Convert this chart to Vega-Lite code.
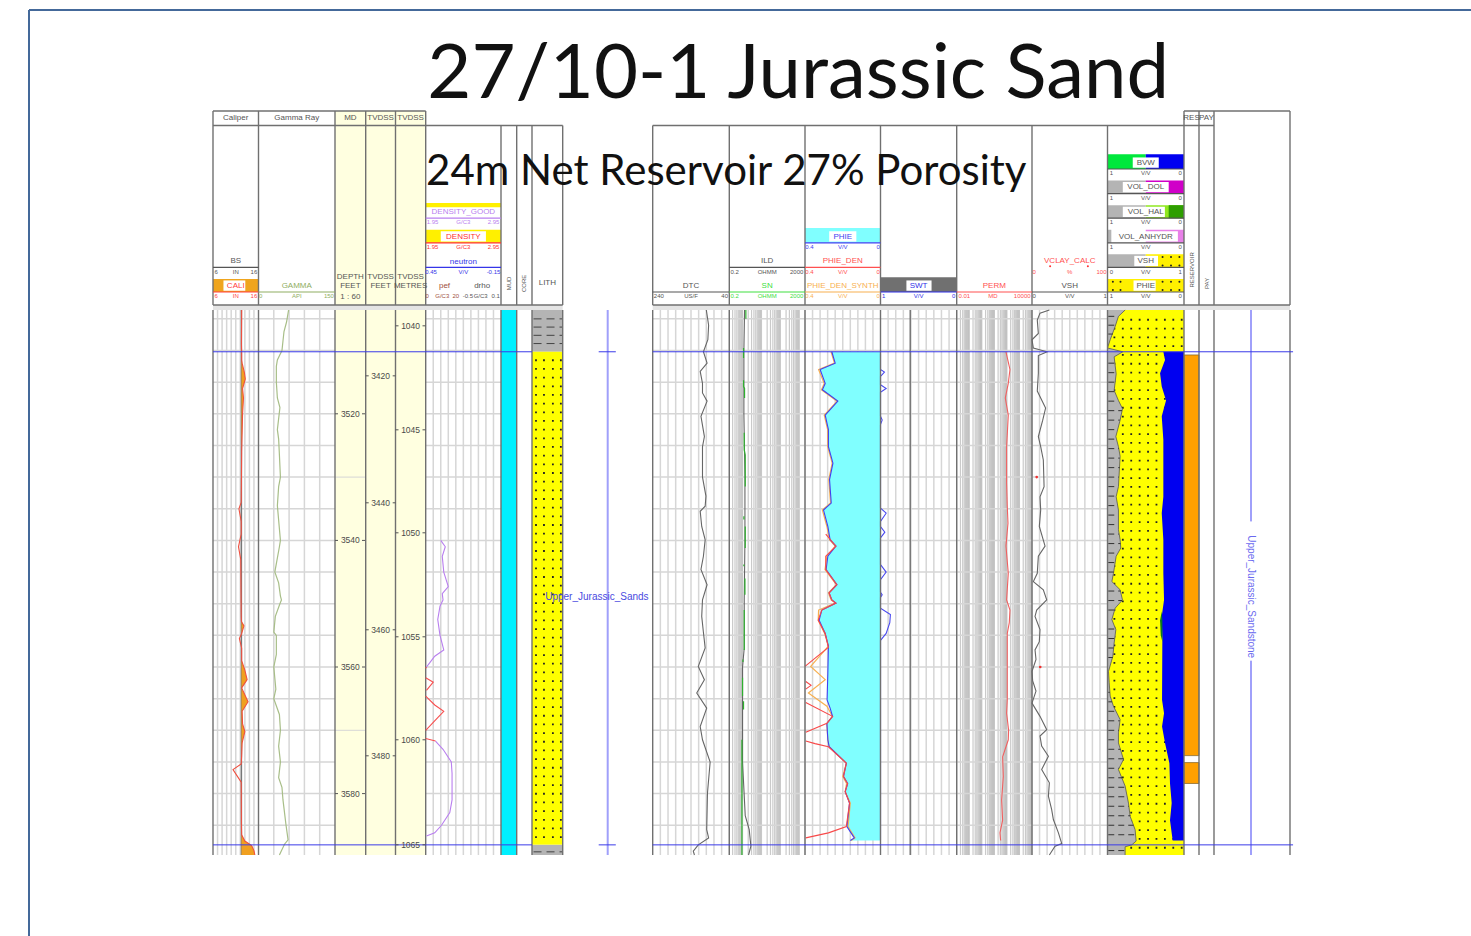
{"$schema":"https://vega.github.io/schema/vega-lite/v6.json","width":1471,"height":936,"padding":0,"autosize":{"type":"fit","contains":"padding"},"background":"white","config":{"view":{"stroke":null}},
"resolve":{"scale":{"x":"independent","y":"independent","color":"independent"}},
"datasets":{
"bands":[{"a":6,"b":7,"d1":3503.6,"d2":3589.7,"band":"MUD"},{"a":8,"b":9,"d1":3503.6,"d2":3510.2,"band":"SHALE"},{"a":8,"b":9,"d1":3510.2,"d2":3588.1,"band":"SAND"},{"a":8,"b":9,"d1":3588.1,"d2":3589.7,"band":"SHALE"},{"a":2,"b":5,"d1":3503.6,"d2":3589.7,"band":"DEPTH"},{"a":16,"b":17,"d1":3503.6,"d2":3589.7,"band":"SAND"}],
"reservoir":[{"d1":3510.7,"d2":3574},{"d1":3575.1,"d2":3578.4}],
"grid_v":[{"t":0.1},{"t":0.2},{"t":0.3},{"t":0.4},{"t":0.5},{"t":0.6},{"t":0.7},{"t":0.8},{"t":0.9},{"t":1.2},{"t":1.4},{"t":1.6},{"t":1.8},{"t":5.1},{"t":5.2},{"t":5.3},{"t":5.4},{"t":5.5},{"t":5.6},{"t":5.7},{"t":5.8},{"t":5.9},{"t":10.1},{"t":10.2},{"t":10.3},{"t":10.4},{"t":10.5},{"t":10.6},{"t":10.7},{"t":10.8},{"t":10.9},{"t":12.1},{"t":12.2},{"t":12.3},{"t":12.4},{"t":12.5},{"t":12.6},{"t":12.7},{"t":12.8},{"t":12.9},{"t":13.1},{"t":13.2},{"t":13.3},{"t":13.4},{"t":13.5},{"t":13.6},{"t":13.7},{"t":13.8},{"t":13.9},{"t":15.1},{"t":15.2},{"t":15.3},{"t":15.4},{"t":15.5},{"t":15.6},{"t":15.7},{"t":15.8},{"t":15.9}],
"decades":[{"v":0.01},{"v":0.02},{"v":0.03},{"v":0.04},{"v":0.05},{"v":0.06},{"v":0.07},{"v":0.08},{"v":0.09},{"v":0.1},{"v":0.2},{"v":0.3},{"v":0.4},{"v":0.5},{"v":0.6},{"v":0.7},{"v":0.8},{"v":0.9},{"v":1},{"v":2},{"v":3},{"v":4},{"v":5},{"v":6},{"v":7},{"v":8},{"v":9},{"v":10},{"v":20},{"v":30},{"v":40},{"v":50},{"v":60},{"v":70},{"v":80},{"v":90},{"v":100},{"v":200},{"v":300},{"v":400},{"v":500},{"v":600},{"v":700},{"v":800},{"v":900},{"v":1000},{"v":2000},{"v":3000},{"v":4000},{"v":5000},{"v":6000},{"v":7000},{"v":8000},{"v":9000},{"v":10000}],
"grid_h":[{"d":3505},{"d":3510},{"d":3515},{"d":3520},{"d":3525},{"d":3530},{"d":3535},{"d":3540},{"d":3545},{"d":3550},{"d":3555},{"d":3560},{"d":3565},{"d":3570},{"d":3575},{"d":3580},{"d":3585}],
"grid_md":[{"d":3530},{"d":3570}],
"tracks":[{"t":0},{"t":1},{"t":2},{"t":3},{"t":4},{"t":5},{"t":6},{"t":7},{"t":8},{"t":9},{"t":10},{"t":11},{"t":12},{"t":13},{"t":13.39},{"t":14},{"t":15},{"t":16},{"t":17},{"t":18},{"t":19},{"t":20}],
"gamma":[{"d":3503.6,"v":59},{"d":3505.5,"v":55},{"d":3507,"v":50},{"d":3508.5,"v":48},{"d":3510,"v":46},{"d":3511.5,"v":37},{"d":3512.5,"v":35},{"d":3515,"v":35},{"d":3517.5,"v":37},{"d":3519,"v":42},{"d":3522.5,"v":37},{"d":3524,"v":39.5},{"d":3526.5,"v":41},{"d":3530,"v":43},{"d":3531.5,"v":39.5},{"d":3534.5,"v":37},{"d":3540,"v":43},{"d":3541,"v":41},{"d":3545,"v":32},{"d":3546.7,"v":39.5},{"d":3548.8,"v":43},{"d":3549.4,"v":45},{"d":3550,"v":42},{"d":3552,"v":33},{"d":3554.5,"v":30},{"d":3555,"v":35},{"d":3558,"v":35},{"d":3560,"v":30},{"d":3563.5,"v":34},{"d":3565,"v":30},{"d":3567.5,"v":41},{"d":3570,"v":43},{"d":3572.5,"v":39.5},{"d":3575,"v":43},{"d":3577.5,"v":39.5},{"d":3579,"v":46},{"d":3581,"v":48},{"d":3583,"v":51},{"d":3585,"v":54},{"d":3587.3,"v":58},{"d":3588,"v":51},{"d":3589.7,"v":41}],
"cali":[{"d":3503.6,"v":12.3},{"d":3509,"v":12.25},{"d":3510.5,"v":12.3},{"d":3511.5,"v":12.3,"f":12.25,"e":12.25},{"d":3512,"v":12.4,"f":12.4,"e":12.25},{"d":3513.5,"v":12.9,"f":12.9,"e":12.25},{"d":3514.5,"v":13.1,"f":13.1,"e":12.25},{"d":3516,"v":12.5,"f":12.5,"e":12.25},{"d":3517.5,"v":12.7,"f":12.7,"e":12.25},{"d":3520,"v":12.5,"f":12.5,"e":12.25},{"d":3523,"v":12.4,"f":12.4,"e":12.25},{"d":3526,"v":12.3,"f":12.25,"e":12.25},{"d":3534,"v":12.2},{"d":3535,"v":11.7},{"d":3537,"v":12.2},{"d":3539,"v":12.2},{"d":3541,"v":11.6},{"d":3543,"v":12.1},{"d":3552,"v":12.2},{"d":3552.8,"v":12.25,"f":12.25,"e":12.25},{"d":3553.5,"v":12.8,"f":12.8,"e":12.25},{"d":3554.7,"v":12.3,"f":12.25,"e":12.25},{"d":3555.5,"v":11.8},{"d":3557,"v":12.3},{"d":3559,"v":12.3,"f":12.3,"e":12.25},{"d":3560.5,"v":13,"f":13,"e":12.25},{"d":3562,"v":13.5,"f":13.5,"e":12.25},{"d":3563.3,"v":12.3,"f":12.3,"e":12.25},{"d":3565.5,"v":13.7,"f":13.7,"e":12.25},{"d":3567,"v":12.4,"f":12.4,"e":12.25},{"d":3569,"v":12.5,"f":12.5,"e":12.25},{"d":3570.2,"v":13,"f":13,"e":12.25},{"d":3572,"v":12.4,"f":12.4,"e":12.25},{"d":3574,"v":12.3,"f":12.25,"e":12.25},{"d":3575.3,"v":12.2},{"d":3576.2,"v":10.4},{"d":3578.2,"v":12.2},{"d":3585,"v":12.25},{"d":3586.5,"v":12.3,"f":12.25,"e":12.25},{"d":3587.5,"v":13,"f":13,"e":12.25},{"d":3588.2,"v":14.5,"f":14.5,"e":12.25},{"d":3589,"v":15,"f":15,"e":12.25},{"d":3589.7,"v":15.2,"f":15.2,"e":12.25}],
"bs":[{"v":12.25}],
"density_good":[{"d":3540,"v":2.15},{"d":3541,"v":2.21},{"d":3542.5,"v":2.17},{"d":3545,"v":2.19},{"d":3547.3,"v":2.25},{"d":3548.4,"v":2.17},{"d":3549.4,"v":2.18},{"d":3550.4,"v":2.14},{"d":3552.5,"v":2.11},{"d":3555,"v":2.14},{"d":3557.3,"v":2.19},{"d":3558.3,"v":2.07},{"d":3559.4,"v":2.0},{"d":3560,"v":1.96},{"d":3571.5,"v":null},{"d":3571.7,"v":2.08},{"d":3573,"v":2.18},{"d":3575,"v":2.29},{"d":3576.8,"v":2.3},{"d":3581,"v":2.3},{"d":3583,"v":2.27},{"d":3585,"v":2.16},{"d":3586.2,"v":2.07},{"d":3586.7,"v":1.96}],
"density":[{"d":3560,"v":1.96},{"d":3560.2,"v":1.95},{"d":3561,"v":null},{"d":3561.7,"v":1.95},{"d":3562.4,"v":2.05},{"d":3563.7,"v":1.96},{"d":3564.2,"v":null},{"d":3564.6,"v":1.95},{"d":3566,"v":2.07},{"d":3567,"v":2.19},{"d":3568,"v":2.11},{"d":3570,"v":1.95},{"d":3570.6,"v":null},{"d":3571.3,"v":1.95},{"d":3571.7,"v":2.08}],
"dtc":[{"d":3503.6,"v":100},{"d":3506,"v":94},{"d":3508.3,"v":96},{"d":3510.2,"v":107.6},{"d":3512,"v":98},{"d":3513.3,"v":116},{"d":3515.2,"v":110},{"d":3516.7,"v":110},{"d":3518,"v":98},{"d":3520.4,"v":114},{"d":3523.6,"v":105},{"d":3525.2,"v":110},{"d":3530,"v":110},{"d":3533,"v":101},{"d":3534.6,"v":103},{"d":3535.4,"v":116},{"d":3537.8,"v":112},{"d":3539.9,"v":103},{"d":3542.5,"v":107.6},{"d":3544.6,"v":114},{"d":3547,"v":98},{"d":3549.4,"v":110},{"d":3552,"v":112},{"d":3554.5,"v":107.6},{"d":3557,"v":103},{"d":3559.9,"v":121},{"d":3562,"v":105},{"d":3564.1,"v":125},{"d":3566.5,"v":99},{"d":3569.4,"v":116},{"d":3571.5,"v":110},{"d":3575,"v":90},{"d":3579.9,"v":97},{"d":3585.7,"v":99},{"d":3587,"v":94},{"d":3588.1,"v":121},{"d":3589.1,"v":134},{"d":3589.7,"v":131}],
"ild":[{"d":3503.6,"v":1.28},{"d":3510,"v":1.18},{"d":3520,"v":1.18},{"d":3530,"v":1.34},{"d":3540,"v":1.34},{"d":3549.4,"v":1.23},{"d":3557,"v":1.23},{"d":3560,"v":1.0},{"d":3575,"v":1.0},{"d":3583.5,"v":1.39},{"d":3585.7,"v":2.26},{"d":3588.3,"v":2.76},{"d":3589.7,"v":2.08}],
"sn":[{"d":3503.6,"v":1.5},{"d":3505,"v":1.5},{"d":3506,"v":null},{"d":3509.6,"v":1.13},{"d":3511.2,"v":1.13},{"d":3512,"v":null},{"d":3514.7,"v":1.13},{"d":3515.7,"v":1.13},{"d":3516,"v":1.28},{"d":3517.5,"v":1.28},{"d":3518,"v":null},{"d":3523,"v":1.23},{"d":3525.7,"v":1.23},{"d":3526.5,"v":1.39},{"d":3531.5,"v":1.39},{"d":3532,"v":null},{"d":3536.2,"v":1.18},{"d":3536.7,"v":1.18},{"d":3537,"v":null},{"d":3537.8,"v":1.39},{"d":3541.2,"v":1.39},{"d":3542,"v":null},{"d":3543.8,"v":1.18},{"d":3544.1,"v":1.18},{"d":3544.5,"v":null},{"d":3546,"v":1.34},{"d":3548.6,"v":1.34},{"d":3549,"v":null},{"d":3551,"v":1.23},{"d":3557.3,"v":1.23},{"d":3558,"v":null},{"d":3558.8,"v":1.05},{"d":3559.2,"v":1.05},{"d":3560,"v":null},{"d":3561.7,"v":1.0},{"d":3564.6,"v":1.0},{"d":3565,"v":null},{"d":3565.4,"v":1.13},{"d":3566.7,"v":1.13},{"d":3567,"v":null},{"d":3571.5,"v":0.93},{"d":3589.7,"v":0.93}],
"phie":[{"d":3510.2,"v":0.258,"e":0},{"d":3512,"v":0.24,"e":0},{"d":3513,"v":0.32,"e":0},{"d":3515.2,"v":0.293,"e":0},{"d":3516.2,"v":0.308,"e":0},{"d":3518,"v":0.226,"e":0},{"d":3520.2,"v":0.293,"e":0},{"d":3522.5,"v":0.276,"e":0},{"d":3525.2,"v":0.276,"e":0},{"d":3527.8,"v":0.252,"e":0},{"d":3530.4,"v":0.27,"e":0},{"d":3534.1,"v":0.261,"e":0},{"d":3535.2,"v":0.302,"e":0},{"d":3537.8,"v":0.279,"e":0},{"d":3539.9,"v":0.267,"e":0},{"d":3540.9,"v":0.236,"e":0},{"d":3542.5,"v":0.279,"e":0},{"d":3544.6,"v":0.288,"e":0},{"d":3547,"v":0.231,"e":0},{"d":3548.3,"v":0.272,"e":0},{"d":3549.4,"v":0.258,"e":0},{"d":3549.9,"v":0.236,"e":0},{"d":3551,"v":0.311,"e":0},{"d":3552.6,"v":0.325,"e":0},{"d":3554.7,"v":0.293,"e":0},{"d":3556.7,"v":0.276,"e":0},{"d":3561,"v":0.279,"e":0},{"d":3565.2,"v":0.283,"e":0},{"d":3566.5,"v":0.267,"e":0},{"d":3567.8,"v":0.254,"e":0},{"d":3568.9,"v":0.284,"e":0},{"d":3571.5,"v":0.279,"e":0},{"d":3572.6,"v":0.272,"e":0},{"d":3575.2,"v":0.181,"e":0},{"d":3577.3,"v":0.196,"e":0},{"d":3578.4,"v":0.174,"e":0},{"d":3579.7,"v":0.187,"e":0},{"d":3581.5,"v":0.164,"e":0},{"d":3585.2,"v":0.178,"e":0},{"d":3587,"v":0.139,"e":0},{"d":3587.4,"v":0.16,"e":0}],
"phie_den":[{"d":3539,"v":0.29},{"d":3540.9,"v":0.236},{"d":3542.5,"v":0.29},{"d":3544.6,"v":0.29},{"d":3547,"v":0.231},{"d":3548.3,"v":0.272},{"d":3549.4,"v":0.258},{"d":3549.9,"v":0.236},{"d":3551,"v":0.311},{"d":3552.6,"v":0.33},{"d":3554.7,"v":0.293},{"d":3556.9,"v":0.276},{"d":3559.9,"v":0.4},{"d":3560.5,"v":null},{"d":3562.3,"v":0.396},{"d":3562.9,"v":0.368},{"d":3563.5,"v":0.396},{"d":3564.5,"v":null},{"d":3565.6,"v":0.396},{"d":3567.8,"v":0.254},{"d":3568.9,"v":0.284},{"d":3570.3,"v":0.396},{"d":3571,"v":null},{"d":3571.7,"v":0.396},{"d":3572.1,"v":0.347},{"d":3572.6,"v":0.276},{"d":3575.2,"v":0.181},{"d":3577.3,"v":0.196},{"d":3578.4,"v":0.174},{"d":3579.7,"v":0.187},{"d":3581.5,"v":0.164},{"d":3585.2,"v":0.181},{"d":3586.2,"v":0.276},{"d":3587,"v":0.396}],
"synth":[{"d":3510.2,"v":0.262},{"d":3512,"v":0.244},{"d":3513,"v":0.328},{"d":3515.2,"v":0.298},{"d":3516.2,"v":0.313},{"d":3518,"v":0.23},{"d":3520.2,"v":0.298},{"d":3522.5,"v":0.28},{"d":3525.2,"v":0.28},{"d":3527.8,"v":0.256},{"d":3530.4,"v":0.274},{"d":3534.1,"v":0.265},{"d":3535.2,"v":0.308},{"d":3537.8,"v":0.284},{"d":3539.9,"v":0.27},{"d":3540.9,"v":0.24},{"d":3542.5,"v":0.284},{"d":3544.6,"v":0.294},{"d":3547,"v":0.234},{"d":3548.3,"v":0.276},{"d":3549.4,"v":0.262},{"d":3549.9,"v":0.24},{"d":3551,"v":0.328},{"d":3552.6,"v":0.33},{"d":3554.7,"v":0.296},{"d":3556.7,"v":0.276},{"d":3559.9,"v":0.37},{"d":3562,"v":0.293},{"d":3564.1,"v":0.382},{"d":3566.2,"v":0.284},{"d":3567.8,"v":0.254},{"d":3568.9,"v":0.284},{"d":3571.5,"v":0.279},{"d":3572.6,"v":0.272},{"d":3575.2,"v":0.181},{"d":3577.3,"v":0.2},{"d":3578.4,"v":0.18},{"d":3579.7,"v":0.187},{"d":3581.5,"v":0.16},{"d":3585.2,"v":0.172},{"d":3587,"v":0.135},{"d":3587.4,"v":0.155}],
"swt":[{"d":3510.5,"v":1},{"d":3513,"v":1},{"d":3513.4,"v":0.948},{"d":3514.1,"v":1},{"d":3515.4,"v":1},{"d":3516,"v":0.926},{"d":3516.6,"v":1},{"d":3520.4,"v":1},{"d":3521,"v":0.978},{"d":3521.7,"v":1},{"d":3534.9,"v":1},{"d":3535.7,"v":0.926},{"d":3537,"v":1},{"d":3537.8,"v":1},{"d":3538.7,"v":0.943},{"d":3539.6,"v":1},{"d":3543.8,"v":1},{"d":3545,"v":0.926},{"d":3546.2,"v":1},{"d":3548.2,"v":1},{"d":3548.6,"v":0.978},{"d":3549,"v":1},{"d":3550.7,"v":1},{"d":3551.7,"v":0.87},{"d":3553,"v":0.878},{"d":3554.7,"v":0.926},{"d":3555.8,"v":1},{"d":3587.4,"v":1}],
"perm":[{"d":3510.2,"v":84.3},{"d":3513,"v":175},{"d":3515.2,"v":129},{"d":3517.5,"v":74.6},{"d":3520.2,"v":129},{"d":3525.2,"v":95},{"d":3530.9,"v":95},{"d":3534.6,"v":107},{"d":3537.3,"v":122},{"d":3540.9,"v":84.3},{"d":3545.2,"v":129},{"d":3549.4,"v":95},{"d":3551,"v":175},{"d":3553,"v":155},{"d":3554.7,"v":107},{"d":3565.2,"v":107},{"d":3567.3,"v":95},{"d":3570,"v":137},{"d":3571.5,"v":129},{"d":3574.2,"v":45.7},{"d":3577.3,"v":51.7},{"d":3581,"v":38.1},{"d":3584.2,"v":45.7},{"d":3586.2,"v":28.1},{"d":3587.4,"v":31.7}],
"vsh":[{"d":3503.6,"v":0.23},{"d":3504.1,"v":0.106},{"d":3505.2,"v":0.07},{"d":3507.3,"v":0.084},{"d":3508.3,"v":0},{"d":3509.6,"v":0.018},{"d":3510.2,"v":0.2},{"d":3510.8,"v":0.084},{"d":3513.6,"v":0.084},{"d":3516.4,"v":0.07},{"d":3519.1,"v":0.18},{"d":3521,"v":0.142},{"d":3523.6,"v":0.084},{"d":3525.2,"v":0.115},{"d":3527.3,"v":0.15},{"d":3531.5,"v":0.16},{"d":3533.1,"v":0.106},{"d":3535.2,"v":0.115},{"d":3537.8,"v":0.097},{"d":3540.9,"v":0.173},{"d":3542.5,"v":0.084},{"d":3545.2,"v":0.07},{"d":3546.5,"v":0.018},{"d":3547.8,"v":0.15},{"d":3549.4,"v":0.195},{"d":3551,"v":0.062},{"d":3552,"v":0.04},{"d":3554.1,"v":0.106},{"d":3556,"v":0.097},{"d":3557.3,"v":0.04},{"d":3558.8,"v":0.053},{"d":3560.7,"v":0},{"d":3562.2,"v":0.009},{"d":3563.8,"v":0.053},{"d":3565.7,"v":0},{"d":3567.8,"v":0.106},{"d":3569.9,"v":0.195},{"d":3570.9,"v":0.106},{"d":3572.5,"v":0.128},{"d":3574.1,"v":0.217},{"d":3576.2,"v":0.128},{"d":3578.3,"v":0.23},{"d":3580.4,"v":0.217},{"d":3582.5,"v":0.26},{"d":3584.1,"v":0.283},{"d":3586.2,"v":0.35},{"d":3587.9,"v":0.394},{"d":3588.3,"v":0.305},{"d":3589.7,"v":0.23}],
"vclay":[{"d":3530,"v":6.2},{"d":3560,"v":10.9}],
"clean":[{"d":3503.6,"v":0.77,"e":1},{"d":3504.6,"v":0.857,"e":1},{"d":3506.2,"v":0.9,"e":1},{"d":3508.3,"v":0.965,"e":1},{"d":3509.6,"v":1,"e":1},{"d":3510.2,"v":0.8,"e":1},{"d":3511,"v":0.913,"e":1},{"d":3513.7,"v":0.887,"e":1},{"d":3516.3,"v":0.913,"e":1},{"d":3517.9,"v":0.857,"e":1},{"d":3519.2,"v":0.804,"e":1},{"d":3521,"v":0.835,"e":1},{"d":3523.6,"v":0.891,"e":1},{"d":3525.2,"v":0.857,"e":1},{"d":3526.7,"v":0.835,"e":1},{"d":3531.5,"v":0.857,"e":1},{"d":3533.1,"v":0.887,"e":1},{"d":3535.2,"v":0.857,"e":1},{"d":3538.3,"v":0.857,"e":1},{"d":3539.9,"v":0.835,"e":1},{"d":3541.2,"v":0.826,"e":1},{"d":3542.5,"v":0.887,"e":1},{"d":3545.2,"v":0.922,"e":1},{"d":3546.5,"v":0.943,"e":1},{"d":3547.8,"v":0.835,"e":1},{"d":3549.4,"v":0.804,"e":1},{"d":3550.7,"v":0.9,"e":1},{"d":3552.5,"v":0.943,"e":1},{"d":3554.1,"v":0.891,"e":1},{"d":3556.2,"v":0.913,"e":1},{"d":3558.3,"v":0.93,"e":1},{"d":3560.7,"v":0.987,"e":1},{"d":3562.5,"v":0.978,"e":1},{"d":3564.6,"v":0.965,"e":1},{"d":3566.2,"v":0.922,"e":1},{"d":3568.3,"v":0.835,"e":1},{"d":3570.4,"v":0.857,"e":1},{"d":3572,"v":0.857,"e":1},{"d":3574.6,"v":0.791,"e":1},{"d":3576.2,"v":0.857,"e":1},{"d":3578.8,"v":0.77,"e":1},{"d":3581.5,"v":0.726,"e":1},{"d":3583.6,"v":0.704,"e":1},{"d":3585.7,"v":0.639,"e":1},{"d":3587.5,"v":0.626,"e":1},{"d":3588.1,"v":0.683,"e":1},{"d":3588.4,"v":0.77,"e":1},{"d":3589.7,"v":0.77,"e":1}],
"shale_marks":[{"d":3504.6,"v":0.86,"e":0.99},{"d":3506,"v":0.9,"e":0.99},{"d":3507.4,"v":0.93,"e":0.99},{"d":3512,"v":0.9,"e":0.99},{"d":3513.5,"v":0.89,"e":0.99},{"d":3515,"v":0.9,"e":0.99},{"d":3516.5,"v":0.91,"e":0.99},{"d":3518,"v":0.86,"e":0.99},{"d":3519.5,"v":0.81,"e":0.99},{"d":3521,"v":0.84,"e":0.99},{"d":3522.5,"v":0.87,"e":0.99},{"d":3524,"v":0.88,"e":0.99},{"d":3525.5,"v":0.85,"e":0.99},{"d":3527,"v":0.84,"e":0.99},{"d":3528.5,"v":0.84,"e":0.99},{"d":3530,"v":0.85,"e":0.99},{"d":3531.5,"v":0.86,"e":0.99},{"d":3533,"v":0.89,"e":0.99},{"d":3534.5,"v":0.87,"e":0.99},{"d":3536,"v":0.86,"e":0.99},{"d":3537.5,"v":0.86,"e":0.99},{"d":3539,"v":0.85,"e":0.99},{"d":3540.5,"v":0.83,"e":0.99},{"d":3542,"v":0.87,"e":0.99},{"d":3543.5,"v":0.9,"e":0.99},{"d":3545,"v":0.92,"e":0.99},{"d":3548,"v":0.83,"e":0.99},{"d":3549.5,"v":0.81,"e":0.99},{"d":3551,"v":0.91,"e":0.99},{"d":3554,"v":0.89,"e":0.99},{"d":3555.5,"v":0.9,"e":0.99},{"d":3557,"v":0.92,"e":0.99},{"d":3558.5,"v":0.93,"e":0.99},{"d":3564,"v":0.97,"e":0.99},{"d":3565.5,"v":0.94,"e":0.99},{"d":3567,"v":0.89,"e":0.99},{"d":3568.5,"v":0.84,"e":0.99},{"d":3570,"v":0.85,"e":0.99},{"d":3571.5,"v":0.86,"e":0.99},{"d":3573,"v":0.83,"e":0.99},{"d":3574.5,"v":0.79,"e":0.99},{"d":3576,"v":0.85,"e":0.99},{"d":3577.5,"v":0.81,"e":0.99},{"d":3579,"v":0.76,"e":0.99},{"d":3580.5,"v":0.74,"e":0.99},{"d":3582,"v":0.72,"e":0.99},{"d":3583.5,"v":0.7,"e":0.99},{"d":3585,"v":0.66,"e":0.99},{"d":3586.5,"v":0.63,"e":0.99},{"d":3589,"v":0.77,"e":0.99}],
"dot_cols":[{"t":16.09},{"t":16.2},{"t":16.31},{"t":16.42},{"t":16.53},{"t":16.64},{"t":16.75},{"t":16.86},{"t":16.97}],
"lith_dots":[{"t":8.13},{"t":8.39},{"t":8.68},{"t":8.94}],
"lith_shale":[{"d":3505},{"d":3506.3},{"d":3507.6},{"d":3508.9},{"d":3589.2}],
"bvw":[{"d":3510.2,"v":0.27,"e":0},{"d":3511.5,"v":0.248,"e":0},{"d":3513.6,"v":0.313,"e":0},{"d":3515.7,"v":0.291,"e":0},{"d":3517.9,"v":0.235,"e":0},{"d":3520.4,"v":0.291,"e":0},{"d":3524.1,"v":0.27,"e":0},{"d":3529.4,"v":0.27,"e":0},{"d":3533.1,"v":0.27,"e":0},{"d":3535.7,"v":0.291,"e":0},{"d":3539.9,"v":0.27,"e":0},{"d":3545.2,"v":0.27,"e":0},{"d":3549.4,"v":0.261,"e":0},{"d":3552,"v":0.291,"e":0},{"d":3555.7,"v":0.283,"e":0},{"d":3565.2,"v":0.287,"e":0},{"d":3567.3,"v":0.261,"e":0},{"d":3569.4,"v":0.287,"e":0},{"d":3572,"v":0.248,"e":0},{"d":3575.2,"v":0.191,"e":0},{"d":3578.4,"v":0.183,"e":0},{"d":3581.5,"v":0.161,"e":0},{"d":3584.2,"v":0.183,"e":0},{"d":3587.4,"v":0.148,"e":0}],
"vol_green":[{"d":3551.2,"a":0.291,"b":0.291},{"d":3552.6,"a":0.313,"b":0.283},{"d":3555,"a":0.304,"b":0.283},{"d":3556,"a":0.283,"b":0.283}],
"tops":[{"d":3510.2,"a":0,"b":8},{"d":3510.2,"a":9.4,"b":9.59},{"d":3510.2,"a":10,"b":20.017},{"d":3588.1,"a":0,"b":8},{"d":3588.1,"a":9.4,"b":9.59},{"d":3588.1,"a":10,"b":20.017}],
"zone_lines":[{"t":9.5,"d1":3503.6,"d2":3589.7},{"t":19.487,"d1":3503.6,"d2":3537},{"t":19.487,"d1":3559,"d2":3589.7}],
"depth_labels":[{"l":2,"r":3,"t":2.5,"d":3520,"label":"3520"},{"l":2,"r":3,"t":2.5,"d":3540,"label":"3540"},{"l":2,"r":3,"t":2.5,"d":3560,"label":"3560"},{"l":2,"r":3,"t":2.5,"d":3580,"label":"3580"},{"l":3,"r":4,"t":3.5,"d":3514,"label":"3420"},{"l":3,"r":4,"t":3.5,"d":3534.06,"label":"3440"},{"l":3,"r":4,"t":3.5,"d":3554.12,"label":"3460"},{"l":3,"r":4,"t":3.5,"d":3574.03,"label":"3480"},{"l":4,"r":5,"t":4.5,"d":3506.1,"label":"1040"},{"l":4,"r":5,"t":4.5,"d":3522.53,"label":"1045"},{"l":4,"r":5,"t":4.5,"d":3538.8,"label":"1050"},{"l":4,"r":5,"t":4.5,"d":3555.23,"label":"1055"},{"l":4,"r":5,"t":4.5,"d":3571.5,"label":"1060"},{"l":4,"r":5,"t":4.5,"d":3588.09,"label":"1065"}],
"frame_h":[{"a":-1,"b":21,"r":11.46}],
"frame_v":[{"t":-1,"r1":11.46,"r2":-26.2}],
"bars":[
{"a":2,"b":5,"r1":-0.53,"r2":7.36,"bar":"BEIGE"},
{"a":0,"b":9,"r1":-0.53,"r2":-0.73,"bar":"GAP"},{"a":10,"b":20,"r1":-0.53,"r2":-0.73,"bar":"GAP"},
{"a":0,"b":1,"r1":0,"r2":0.53,"bar":"ORANGE"},{"a":0.23,"b":0.71,"r1":0.05,"r2":0.47,"bar":"WHITE"},
{"a":5,"b":6,"r1":3.45,"r2":3.62,"bar":"YELLOW"},
{"a":5,"b":6,"r1":2,"r2":2.53,"bar":"YELLOW"},{"a":5.2,"b":5.8,"r1":2.05,"r2":2.47,"bar":"WHITE"},
{"a":12,"b":13,"r1":2,"r2":2.6,"bar":"CYAN"},{"a":12.32,"b":12.68,"r1":2.05,"r2":2.47,"bar":"WHITE"},
{"a":13,"b":14,"r1":0,"r2":0.6,"bar":"DARKGREY"},{"a":13.34,"b":13.67,"r1":0.05,"r2":0.47,"bar":"WHITE"},
{"a":16,"b":17,"r1":0,"r2":0.53,"bar":"YELLOW"},{"a":16.34,"b":16.63,"r1":0.05,"r2":0.47,"bar":"WHITE"},
{"a":16,"b":16.5,"r1":1,"r2":1.53,"bar":"GREY"},{"a":16.5,"b":17,"r1":1,"r2":1.53,"bar":"YELLOW"},{"a":16.35,"b":16.66,"r1":1.05,"r2":1.47,"bar":"WHITE"},
{"a":16,"b":16.05,"r1":2,"r2":2.53,"bar":"GREY"},{"a":16.5,"b":17,"r1":2,"r2":2.53,"bar":"PINK"},{"a":16.1,"b":16.92,"r1":2.05,"r2":2.47,"bar":"WHITE"},
{"a":16,"b":16.5,"r1":3,"r2":3.53,"bar":"GREY"},{"a":16.5,"b":17,"r1":3,"r2":3.53,"bar":"LIME"},{"a":16.8,"b":17,"r1":3,"r2":3.53,"bar":"DARKGREEN"},{"a":16.2,"b":16.75,"r1":3.05,"r2":3.47,"bar":"WHITE"},
{"a":16,"b":16.5,"r1":4,"r2":4.53,"bar":"GREY"},{"a":16.5,"b":17,"r1":4,"r2":4.53,"bar":"MAGENTA"},{"a":16.2,"b":16.8,"r1":4.05,"r2":4.47,"bar":"WHITE"},
{"a":16,"b":16.5,"r1":5,"r2":5.6,"bar":"GREEN"},{"a":16.5,"b":17,"r1":5,"r2":5.6,"bar":"BLUE"},{"a":16.33,"b":16.67,"r1":5.05,"r2":5.47,"bar":"WHITE"}],
"header_h":[{"a":0,"b":5,"r":7.36},{"a":17,"b":20,"r":7.36},{"a":0,"b":9,"r":6.77},{"a":10,"b":19,"r":6.77},{"a":0,"b":9,"r":-0.53},{"a":10,"b":20,"r":-0.53}],
"header_v":[{"t":0,"r1":-0.53,"r2":7.36},{"t":1,"r1":-0.53,"r2":7.36},{"t":2,"r1":-0.53,"r2":7.36},{"t":3,"r1":-0.53,"r2":7.36},{"t":4,"r1":-0.53,"r2":7.36},{"t":5,"r1":-0.53,"r2":7.36},{"t":6,"r1":-0.53,"r2":6.77},{"t":7,"r1":-0.53,"r2":6.77},{"t":8,"r1":-0.53,"r2":6.77},{"t":9,"r1":-0.53,"r2":6.77},{"t":10,"r1":-0.53,"r2":6.77},{"t":11,"r1":-0.53,"r2":6.77},{"t":12,"r1":-0.53,"r2":6.77},{"t":13,"r1":-0.53,"r2":6.77},{"t":14,"r1":-0.53,"r2":6.77},{"t":15,"r1":-0.53,"r2":6.77},{"t":16,"r1":-0.53,"r2":6.77},{"t":17,"r1":-0.53,"r2":7.36},{"t":18,"r1":-0.53,"r2":7.36},{"t":19,"r1":-0.53,"r2":7.36},{"t":20,"r1":-0.53,"r2":7.36}],
"curve_lines":[{"a":0,"b":1,"r":1,"curve":"LABEL"},{"a":0,"b":1,"r":0,"curve":"CALI"},{"a":1,"b":2,"r":0,"curve":"GAMMA"},{"a":5,"b":6,"r":3,"curve":"DENSITY_GOOD"},{"a":5,"b":6,"r":2,"curve":"DENSITY"},{"a":5,"b":6,"r":1,"curve":"NEUTRON"},{"a":10,"b":11,"r":0,"curve":"LABEL"},{"a":11,"b":12,"r":1,"curve":"LABEL"},{"a":11,"b":12,"r":0,"curve":"SN"},{"a":12,"b":13,"r":2,"curve":"PHIE"},{"a":12,"b":13,"r":1,"curve":"PHIE_DEN"},{"a":12,"b":13,"r":0,"curve":"PHIE_DEN_SYNTH"},{"a":13,"b":14,"r":0,"curve":"SWT"},{"a":14,"b":15,"r":0,"curve":"PERM"},{"a":15,"b":16,"r":0,"curve":"LABEL"},{"a":16,"b":17,"r":0,"curve":"LABEL"},{"a":16,"b":17,"r":1,"curve":"LABEL"},{"a":16,"b":17,"r":2,"curve":"LABEL"},{"a":16,"b":17,"r":3,"curve":"LABEL"},{"a":16,"b":17,"r":4,"curve":"LABEL"},{"a":16,"b":17,"r":5,"curve":"LABEL"}],
"names":[
{"t":0.5,"r":7.07,"label":"Caliper","curve":"LABEL"},{"t":1.5,"r":7.07,"label":"Gamma Ray","curve":"LABEL"},{"t":2.5,"r":7.07,"label":"MD","curve":"LABEL"},{"t":3.5,"r":7.07,"label":"TVDSS","curve":"LABEL"},{"t":4.5,"r":7.07,"label":"TVDSS","curve":"LABEL"},{"t":17.5,"r":7.07,"label":"RES","curve":"LABEL"},{"t":18.5,"r":7.07,"label":"PAY","curve":"LABEL"},
{"t":0.5,"r":1.25,"label":"BS","curve":"LABEL"},{"t":0.5,"r":0.25,"label":"CALI","curve":"CALI"},{"t":1.5,"r":0.25,"label":"GAMMA","curve":"GAMMA"},
{"t":2.5,"r":0.6,"label":"DEPTH","curve":"LABEL"},{"t":2.5,"r":0.25,"label":"FEET","curve":"LABEL"},{"t":2.5,"r":-0.2,"label":"1 : 60","curve":"LABEL"},
{"t":3.5,"r":0.6,"label":"TVDSS","curve":"LABEL"},{"t":3.5,"r":0.25,"label":"FEET","curve":"LABEL"},{"t":4.5,"r":0.6,"label":"TVDSS","curve":"LABEL"},{"t":4.5,"r":0.25,"label":"METRES","curve":"LABEL"},
{"t":5.5,"r":3.25,"label":"DENSITY_GOOD","curve":"DENSITY_GOOD"},{"t":5.5,"r":2.25,"label":"DENSITY","curve":"DENSITY"},{"t":5.5,"r":1.22,"label":"neutron","curve":"NEUTRON"},{"t":5.25,"r":0.25,"label":"pef","curve":"PEF"},{"t":5.75,"r":0.25,"label":"drho","curve":"LABEL"},
{"t":8.5,"r":0.37,"label":"LITH","curve":"LABEL"},
{"t":10.5,"r":0.25,"label":"DTC","curve":"LABEL"},{"t":11.5,"r":1.25,"label":"ILD","curve":"LABEL"},{"t":11.5,"r":0.25,"label":"SN","curve":"SN"},
{"t":12.5,"r":2.25,"label":"PHIE","curve":"PHIE"},{"t":12.5,"r":1.25,"label":"PHIE_DEN","curve":"PHIE_DEN"},{"t":12.5,"r":0.25,"label":"PHIE_DEN_SYNTH","curve":"PHIE_DEN_SYNTH"},
{"t":13.5,"r":0.25,"label":"SWT","curve":"SWT"},{"t":14.5,"r":0.25,"label":"PERM","curve":"PERM"},{"t":15.5,"r":1.25,"label":"VCLAY_CALC","curve":"VCLAY_CALC"},{"t":15.5,"r":0.25,"label":"VSH","curve":"LABEL"},
{"t":16.5,"r":0.25,"label":"PHIE","curve":"LABEL"},{"t":16.5,"r":1.25,"label":"VSH","curve":"LABEL"},{"t":16.5,"r":2.25,"label":"VOL_ANHYDR","curve":"LABEL"},{"t":16.5,"r":3.25,"label":"VOL_HAL","curve":"LABEL"},{"t":16.5,"r":4.25,"label":"VOL_DOL","curve":"LABEL"},{"t":16.5,"r":5.25,"label":"BVW","curve":"LABEL"}],
"units":[
{"t":0.07,"r":0.83,"label":"6","curve":"LABEL"},{"t":0.5,"r":0.83,"label":"IN","curve":"LABEL"},{"t":0.9,"r":0.83,"label":"16","curve":"LABEL"},
{"t":0.07,"r":-0.17,"label":"6","curve":"CALI"},{"t":0.5,"r":-0.17,"label":"IN","curve":"CALI"},{"t":0.9,"r":-0.17,"label":"16","curve":"CALI"},
{"t":1.03,"r":-0.17,"label":"0","curve":"GAMMA"},{"t":1.5,"r":-0.17,"label":"API","curve":"GAMMA"},{"t":1.92,"r":-0.17,"label":"150","curve":"GAMMA"},
{"t":5.09,"r":2.83,"label":"1.95","curve":"DENSITY_GOOD"},{"t":5.5,"r":2.83,"label":"G/C3","curve":"DENSITY_GOOD"},{"t":5.9,"r":2.83,"label":"2.95","curve":"DENSITY_GOOD"},
{"t":5.09,"r":1.83,"label":"1.95","curve":"DENSITY"},{"t":5.5,"r":1.83,"label":"G/C3","curve":"DENSITY"},{"t":5.9,"r":1.83,"label":"2.95","curve":"DENSITY"},
{"t":5.07,"r":0.83,"label":"0.45","curve":"NEUTRON"},{"t":5.5,"r":0.83,"label":"V/V","curve":"NEUTRON"},{"t":5.9,"r":0.83,"label":"-0.15","curve":"NEUTRON"},
{"t":5.02,"r":-0.17,"label":"0","curve":"PEF"},{"t":5.22,"r":-0.17,"label":"G/C3","curve":"PEF"},{"t":5.4,"r":-0.17,"label":"20","curve":"PEF"},{"t":5.56,"r":-0.17,"label":"-0.5","curve":"LABEL"},{"t":5.73,"r":-0.17,"label":"G/C3","curve":"LABEL"},{"t":5.93,"r":-0.17,"label":"0.1","curve":"LABEL"},
{"t":10.08,"r":-0.17,"label":"240","curve":"LABEL"},{"t":10.5,"r":-0.17,"label":"US/F","curve":"LABEL"},{"t":10.94,"r":-0.17,"label":"40","curve":"LABEL"},
{"t":11.07,"r":0.83,"label":"0.2","curve":"LABEL"},{"t":11.5,"r":0.83,"label":"OHMM","curve":"LABEL"},{"t":11.89,"r":0.83,"label":"2000","curve":"LABEL"},
{"t":11.07,"r":-0.17,"label":"0.2","curve":"SN"},{"t":11.5,"r":-0.17,"label":"OHMM","curve":"SN"},{"t":11.89,"r":-0.17,"label":"2000","curve":"SN"},
{"t":12.06,"r":1.83,"label":"0.4","curve":"PHIE"},{"t":12.5,"r":1.83,"label":"V/V","curve":"PHIE"},{"t":12.97,"r":1.83,"label":"0","curve":"PHIE"},
{"t":12.06,"r":0.83,"label":"0.4","curve":"PHIE_DEN"},{"t":12.5,"r":0.83,"label":"V/V","curve":"PHIE_DEN"},{"t":12.97,"r":0.83,"label":"0","curve":"PHIE_DEN"},
{"t":12.06,"r":-0.17,"label":"0.4","curve":"PHIE_DEN_SYNTH"},{"t":12.5,"r":-0.17,"label":"V/V","curve":"PHIE_DEN_SYNTH"},{"t":12.97,"r":-0.17,"label":"0","curve":"PHIE_DEN_SYNTH"},
{"t":13.04,"r":-0.17,"label":"1","curve":"SWT"},{"t":13.5,"r":-0.17,"label":"V/V","curve":"SWT"},{"t":13.96,"r":-0.17,"label":"0","curve":"SWT"},
{"t":14.1,"r":-0.17,"label":"0.01","curve":"PERM"},{"t":14.48,"r":-0.17,"label":"MD","curve":"PERM"},{"t":14.87,"r":-0.17,"label":"10000","curve":"PERM"},
{"t":15.03,"r":0.83,"label":"0","curve":"VCLAY_CALC"},{"t":15.5,"r":0.83,"label":"%","curve":"VCLAY_CALC"},{"t":15.92,"r":0.83,"label":"100","curve":"VCLAY_CALC"},
{"t":15.03,"r":-0.17,"label":"0","curve":"LABEL"},{"t":15.5,"r":-0.17,"label":"V/V","curve":"LABEL"},{"t":15.97,"r":-0.17,"label":"1","curve":"LABEL"},
{"t":16.05,"r":-0.17,"label":"1","curve":"LABEL"},{"t":16.5,"r":-0.17,"label":"V/V","curve":"LABEL"},{"t":16.95,"r":-0.17,"label":"0","curve":"LABEL"},
{"t":16.05,"r":0.83,"label":"0","curve":"LABEL"},{"t":16.5,"r":0.83,"label":"V/V","curve":"LABEL"},{"t":16.95,"r":0.83,"label":"1","curve":"LABEL"},
{"t":16.05,"r":1.83,"label":"1","curve":"LABEL"},{"t":16.5,"r":1.83,"label":"V/V","curve":"LABEL"},{"t":16.95,"r":1.83,"label":"0","curve":"LABEL"},
{"t":16.05,"r":2.83,"label":"1","curve":"LABEL"},{"t":16.5,"r":2.83,"label":"V/V","curve":"LABEL"},{"t":16.95,"r":2.83,"label":"0","curve":"LABEL"},
{"t":16.05,"r":3.83,"label":"1","curve":"LABEL"},{"t":16.5,"r":3.83,"label":"V/V","curve":"LABEL"},{"t":16.95,"r":3.83,"label":"0","curve":"LABEL"},
{"t":16.05,"r":4.83,"label":"1","curve":"LABEL"},{"t":16.5,"r":4.83,"label":"V/V","curve":"LABEL"},{"t":16.95,"r":4.83,"label":"0","curve":"LABEL"}],
"rotated":[{"t":6.5,"r":0.35,"label":"MUD"},{"t":7.5,"r":0.35,"label":"CORE"},{"t":17.5,"r":0.9,"label":"RESERVOIR"},{"t":18.5,"r":0.35,"label":"PAY"}],
"header_dots":[{"t":16.07,"r":0.42,"curve":"DOT"},{"t":16.17,"r":0.42,"curve":"DOT"},{"t":16.72,"r":0.42,"curve":"DOT"},{"t":16.83,"r":0.42,"curve":"DOT"},{"t":16.94,"r":0.42,"curve":"DOT"},{"t":16.07,"r":0.08,"curve":"DOT"},{"t":16.17,"r":0.08,"curve":"DOT"},{"t":16.72,"r":0.08,"curve":"DOT"},{"t":16.83,"r":0.08,"curve":"DOT"},{"t":16.94,"r":0.08,"curve":"DOT"},{"t":16.72,"r":1.42,"curve":"DOT"},{"t":16.83,"r":1.42,"curve":"DOT"},{"t":16.94,"r":1.42,"curve":"DOT"},{"t":16.72,"r":1.08,"curve":"DOT"},{"t":16.83,"r":1.08,"curve":"DOT"},{"t":16.94,"r":1.08,"curve":"DOT"},{"t":15.24,"r":1.05,"curve":"VCLAY_CALC"},{"t":15.74,"r":1.05,"curve":"VCLAY_CALC"}],
"zone_a":[{"t":9.38,"d":3548.9,"label":"Upper_Jurassic_Sands"}],
"zone_b":[{"t":19.487,"d":3548.9,"label":"Upper_Jurassic_Sandstone"}],
"slide_title":[{"t":11.91,"r":8.82,"label":"27/10-1 Jurassic Sand"}],
"slide_subtitle":[{"t":10.96,"r":4.88,"label":"24m Net Reservoir 27% Porosity"}]
},
"layer":[
{"data":{"name":"frame_h"},"mark":{"type":"rule","color":"#44699A","strokeWidth":2},"encoding":{"x":{"field":"a","type":"quantitative","axis":null,"scale":{"domain":[-1,0,1,2,3,4,5,6,7,8,9,10,11,12,13,14,15,16,17,18,19,20,21],"range":[29,213,258.5,335,365.7,395.5,425.7,501,516.7,532,562.7,652.7,729.3,805,880.5,956.7,1032,1107.5,1184,1199,1214,1290,1471]}},"x2":{"field":"b"},"y":{"field":"r","type":"quantitative","axis":null,"scale":{"domain":[0,7],"range":[292,119.8]}}}},
{"data":{"name":"frame_v"},"mark":{"type":"rule","color":"#44699A","strokeWidth":2},"encoding":{"x":{"field":"t","type":"quantitative","axis":null,"scale":{"domain":[-1,0,1,2,3,4,5,6,7,8,9,10,11,12,13,14,15,16,17,18,19,20,21],"range":[29,213,258.5,335,365.7,395.5,425.7,501,516.7,532,562.7,652.7,729.3,805,880.5,956.7,1032,1107.5,1184,1199,1214,1290,1471]}},"y":{"field":"r1","type":"quantitative","axis":null,"scale":{"domain":[0,7],"range":[292,119.8]}},"y2":{"field":"r2"}}},
{"data":{"name":"bars"},"mark":{"type":"rect"},"encoding":{"x":{"field":"a","type":"quantitative","axis":null,"scale":{"domain":[-1,0,1,2,3,4,5,6,7,8,9,10,11,12,13,14,15,16,17,18,19,20,21],"range":[29,213,258.5,335,365.7,395.5,425.7,501,516.7,532,562.7,652.7,729.3,805,880.5,956.7,1032,1107.5,1184,1199,1214,1290,1471]}},"x2":{"field":"b"},"y":{"field":"r1","type":"quantitative","axis":null,"scale":{"domain":[0,7],"range":[292,119.8]}},"y2":{"field":"r2"},"color":{"field":"bar","type":"nominal","legend":null,"sort":null,"scale":{"domain":["BEIGE","GAP","ORANGE","WHITE","YELLOW","CYAN","DARKGREY","GREY","PINK","LIME","DARKGREEN","MAGENTA","GREEN","BLUE"],"range":["#FFFFE0","#E4E4E4","#EFA51E","#FFFFFF","#FFF000","#80FFFF","#707070","#B4B4B4","#E880E8","#90E820","#2E9E00","#D000C8","#00E83C","#0000F0"]}}}},
{"data":{"name":"bands"},"mark":{"type":"rect"},"encoding":{"x":{"field":"a","type":"quantitative","axis":null,"scale":{"domain":[-1,0,1,2,3,4,5,6,7,8,9,10,11,12,13,14,15,16,17,18,19,20,21],"range":[29,213,258.5,335,365.7,395.5,425.7,501,516.7,532,562.7,652.7,729.3,805,880.5,956.7,1032,1107.5,1184,1199,1214,1290,1471]}},"x2":{"field":"b"},"y":{"field":"d1","type":"quantitative","axis":null,"scale":{"domain":[3503.6,3589.7],"range":[310,855]}},"y2":{"field":"d2"},"color":{"field":"band","type":"nominal","legend":null,"scale":{"domain":["MUD","SHALE","SAND","DEPTH"],"range":["#00F0FF","#B4B4B4","#FFFF00","#FFFFE0"]}}}},
{"data":{"name":"grid_v"},"mark":{"type":"rule","color":"#D6D6D6","strokeWidth":1.5},"encoding":{"x":{"field":"t","type":"quantitative","axis":null,"scale":{"domain":[-1,0,1,2,3,4,5,6,7,8,9,10,11,12,13,14,15,16,17,18,19,20,21],"range":[29,213,258.5,335,365.7,395.5,425.7,501,516.7,532,562.7,652.7,729.3,805,880.5,956.7,1032,1107.5,1184,1199,1214,1290,1471]}},"y":{"datum":3503.6,"axis":null,"scale":{"domain":[3503.6,3589.7],"range":[310,855]}},"y2":{"datum":3589.7}}},
{"data":{"name":"decades"},"transform":[{"filter":"datum.v>=0.2 && datum.v<=2000"}],"mark":{"type":"rule","color":"#B8B8B8","strokeWidth":1.2,"opacity":0.75},"encoding":{"x":{"field":"v","type":"quantitative","axis":null,"scale":{"type":"log","domain":[0.2,2000],"range":[729.3,805]}},"y":{"datum":3503.6,"axis":null,"scale":{"domain":[3503.6,3589.7],"range":[310,855]}},"y2":{"datum":3589.7}}},
{"data":{"name":"decades"},"mark":{"type":"rule","color":"#B8B8B8","strokeWidth":1.2,"opacity":0.75},"encoding":{"x":{"field":"v","type":"quantitative","axis":null,"scale":{"type":"log","domain":[0.01,10000],"range":[956.7,1032]}},"y":{"datum":3503.6,"axis":null,"scale":{"domain":[3503.6,3589.7],"range":[310,855]}},"y2":{"datum":3589.7}}},
{"data":{"name":"grid_h"},"mark":{"type":"rule","color":"#D6D6D6","strokeWidth":1.5},"encoding":{"x":{"datum":0,"axis":null,"scale":{"domain":[-1,0,1,2,3,4,5,6,7,8,9,10,11,12,13,14,15,16,17,18,19,20,21],"range":[29,213,258.5,335,365.7,395.5,425.7,501,516.7,532,562.7,652.7,729.3,805,880.5,956.7,1032,1107.5,1184,1199,1214,1290,1471]}},"x2":{"datum":2},"y":{"field":"d","type":"quantitative","axis":null,"scale":{"domain":[3503.6,3589.7],"range":[310,855]}}}},
{"data":{"name":"grid_h"},"mark":{"type":"rule","color":"#D6D6D6","strokeWidth":1.5},"encoding":{"x":{"datum":5,"axis":null,"scale":{"domain":[-1,0,1,2,3,4,5,6,7,8,9,10,11,12,13,14,15,16,17,18,19,20,21],"range":[29,213,258.5,335,365.7,395.5,425.7,501,516.7,532,562.7,652.7,729.3,805,880.5,956.7,1032,1107.5,1184,1199,1214,1290,1471]}},"x2":{"datum":6},"y":{"field":"d","type":"quantitative","axis":null,"scale":{"domain":[3503.6,3589.7],"range":[310,855]}}}},
{"data":{"name":"grid_h"},"mark":{"type":"rule","color":"#D6D6D6","strokeWidth":1.5},"encoding":{"x":{"datum":10,"axis":null,"scale":{"domain":[-1,0,1,2,3,4,5,6,7,8,9,10,11,12,13,14,15,16,17,18,19,20,21],"range":[29,213,258.5,335,365.7,395.5,425.7,501,516.7,532,562.7,652.7,729.3,805,880.5,956.7,1032,1107.5,1184,1199,1214,1290,1471]}},"x2":{"datum":16},"y":{"field":"d","type":"quantitative","axis":null,"scale":{"domain":[3503.6,3589.7],"range":[310,855]}}}},
{"data":{"name":"grid_md"},"mark":{"type":"rule","color":"#D6D6D6","strokeWidth":1},"encoding":{"x":{"datum":2,"axis":null,"scale":{"domain":[-1,0,1,2,3,4,5,6,7,8,9,10,11,12,13,14,15,16,17,18,19,20,21],"range":[29,213,258.5,335,365.7,395.5,425.7,501,516.7,532,562.7,652.7,729.3,805,880.5,956.7,1032,1107.5,1184,1199,1214,1290,1471]}},"x2":{"datum":3},"y":{"field":"d","type":"quantitative","axis":null,"scale":{"domain":[3503.6,3589.7],"range":[310,855]}}}},
{"data":{"name":"lith_shale"},"mark":{"type":"rule","color":"#444444","strokeWidth":1,"strokeDash":[8,5]},"encoding":{"x":{"datum":8.05,"axis":null,"scale":{"domain":[-1,0,1,2,3,4,5,6,7,8,9,10,11,12,13,14,15,16,17,18,19,20,21],"range":[29,213,258.5,335,365.7,395.5,425.7,501,516.7,532,562.7,652.7,729.3,805,880.5,956.7,1032,1107.5,1184,1199,1214,1290,1471]}},"x2":{"datum":8.98},"y":{"field":"d","type":"quantitative","axis":null,"scale":{"domain":[3503.6,3589.7],"range":[310,855]}}}},
{"data":{"name":"lith_dots"},"mark":{"type":"rule","color":"#222222","strokeWidth":1.8,"strokeDash":[1.8,6.87]},"encoding":{"x":{"field":"t","type":"quantitative","axis":null,"scale":{"domain":[-1,0,1,2,3,4,5,6,7,8,9,10,11,12,13,14,15,16,17,18,19,20,21],"range":[29,213,258.5,335,365.7,395.5,425.7,501,516.7,532,562.7,652.7,729.3,805,880.5,956.7,1032,1107.5,1184,1199,1214,1290,1471]}},"y":{"datum":3511.4,"axis":null,"scale":{"domain":[3503.6,3589.7],"range":[310,855]}},"y2":{"datum":3587.8}}},
{"data":{"name":"dot_cols"},"mark":{"type":"rule","color":"#222222","strokeWidth":1.8,"strokeDash":[1.8,7]},"encoding":{"x":{"field":"t","type":"quantitative","axis":null,"scale":{"domain":[-1,0,1,2,3,4,5,6,7,8,9,10,11,12,13,14,15,16,17,18,19,20,21],"range":[29,213,258.5,335,365.7,395.5,425.7,501,516.7,532,562.7,652.7,729.3,805,880.5,956.7,1032,1107.5,1184,1199,1214,1290,1471]}},"y":{"datum":3505,"axis":null,"scale":{"domain":[3503.6,3589.7],"range":[310,855]}},"y2":{"datum":3589.7}}},
{"data":{"name":"clean"},"mark":{"type":"area","orient":"horizontal","color":"#B4B4B4"},"encoding":{"x":{"field":"v","type":"quantitative","axis":null,"scale":{"domain":[1,0],"range":[1107.5,1184]}},"x2":{"field":"e"},"y":{"field":"d","type":"quantitative","axis":null,"scale":{"domain":[3503.6,3589.7],"range":[310,855]}}}},
{"data":{"name":"clean"},"mark":{"type":"line","color":"#555555","strokeWidth":0.8},"encoding":{"x":{"field":"v","type":"quantitative","axis":null,"scale":{"domain":[1,0],"range":[1107.5,1184]}},"y":{"field":"d","type":"quantitative","axis":null,"scale":{"domain":[3503.6,3589.7],"range":[310,855]}},"order":{"field":"d"}}},
{"data":{"name":"shale_marks"},"mark":{"type":"rule","color":"#333333","strokeWidth":1,"strokeDash":[6,4]},"encoding":{"x":{"field":"e","type":"quantitative","axis":null,"scale":{"domain":[1,0],"range":[1107.5,1184]}},"x2":{"field":"v"},"y":{"field":"d","type":"quantitative","axis":null,"scale":{"domain":[3503.6,3589.7],"range":[310,855]}}}},
{"data":{"name":"bvw"},"mark":{"type":"area","orient":"horizontal","color":"#0000F0"},"encoding":{"x":{"field":"v","type":"quantitative","axis":null,"scale":{"domain":[1,0],"range":[1107.5,1184]}},"x2":{"field":"e"},"y":{"field":"d","type":"quantitative","axis":null,"scale":{"domain":[3503.6,3589.7],"range":[310,855]}}}},
{"data":{"name":"vol_green"},"mark":{"type":"area","orient":"horizontal","color":"#0A7A20"},"encoding":{"x":{"field":"a","type":"quantitative","axis":null,"scale":{"domain":[1,0],"range":[1107.5,1184]}},"x2":{"field":"b"},"y":{"field":"d","type":"quantitative","axis":null,"scale":{"domain":[3503.6,3589.7],"range":[310,855]}}}},
{"data":{"name":"reservoir"},"mark":{"type":"rect","color":"#FFA000","stroke":"#7A5A20","strokeWidth":0.7},"encoding":{"x":{"datum":17,"axis":null,"scale":{"domain":[-1,0,1,2,3,4,5,6,7,8,9,10,11,12,13,14,15,16,17,18,19,20,21],"range":[29,213,258.5,335,365.7,395.5,425.7,501,516.7,532,562.7,652.7,729.3,805,880.5,956.7,1032,1107.5,1184,1199,1214,1290,1471]}},"x2":{"datum":18},"y":{"field":"d1","type":"quantitative","axis":null,"scale":{"domain":[3503.6,3589.7],"range":[310,855]}},"y2":{"field":"d2"}}},
{"data":{"name":"phie"},"mark":{"type":"area","orient":"horizontal","color":"#80FFFF"},"encoding":{"x":{"field":"v","type":"quantitative","axis":null,"scale":{"domain":[0.4,0],"range":[805,880.5]}},"x2":{"field":"e"},"y":{"field":"d","type":"quantitative","axis":null,"scale":{"domain":[3503.6,3589.7],"range":[310,855]}}}},
{"data":{"name":"synth"},"mark":{"type":"line","color":"#F8B050","strokeWidth":1.2},"encoding":{"x":{"field":"v","type":"quantitative","axis":null,"scale":{"domain":[0.4,0],"range":[805,880.5]}},"y":{"field":"d","type":"quantitative","axis":null,"scale":{"domain":[3503.6,3589.7],"range":[310,855]}},"order":{"field":"d"}}},
{"data":{"name":"phie"},"mark":{"type":"line","color":"#4040F0","strokeWidth":1.1},"encoding":{"x":{"field":"v","type":"quantitative","axis":null,"scale":{"domain":[0.4,0],"range":[805,880.5]}},"y":{"field":"d","type":"quantitative","axis":null,"scale":{"domain":[3503.6,3589.7],"range":[310,855]}},"order":{"field":"d"}}},
{"data":{"name":"phie_den"},"mark":{"type":"line","color":"#F84848","strokeWidth":1.1},"encoding":{"x":{"field":"v","type":"quantitative","axis":null,"scale":{"domain":[0.4,0],"range":[805,880.5]}},"y":{"field":"d","type":"quantitative","axis":null,"scale":{"domain":[3503.6,3589.7],"range":[310,855]}},"order":{"field":"d"}}},
{"data":{"name":"swt"},"mark":{"type":"line","color":"#4848F0","strokeWidth":1.1},"encoding":{"x":{"field":"v","type":"quantitative","axis":null,"scale":{"domain":[1,0],"range":[880.5,956.7]}},"y":{"field":"d","type":"quantitative","axis":null,"scale":{"domain":[3503.6,3589.7],"range":[310,855]}},"order":{"field":"d"}}},
{"data":{"name":"tracks"},"mark":{"type":"rule","color":"#707070","strokeWidth":1.4},"encoding":{"x":{"field":"t","type":"quantitative","axis":null,"scale":{"domain":[-1,0,1,2,3,4,5,6,7,8,9,10,11,12,13,14,15,16,17,18,19,20,21],"range":[29,213,258.5,335,365.7,395.5,425.7,501,516.7,532,562.7,652.7,729.3,805,880.5,956.7,1032,1107.5,1184,1199,1214,1290,1471]}},"y":{"datum":3503.6,"axis":null,"scale":{"domain":[3503.6,3589.7],"range":[310,855]}},"y2":{"datum":3589.7}}},
{"data":{"name":"bs"},"mark":{"type":"rule","color":"#777777","strokeWidth":1.4},"encoding":{"x":{"field":"v","type":"quantitative","axis":null,"scale":{"domain":[6,16],"range":[213,258.5]}},"y":{"datum":3503.6,"axis":null,"scale":{"domain":[3503.6,3589.7],"range":[310,855]}},"y2":{"datum":3589.7}}},
{"data":{"name":"cali"},"mark":{"type":"area","orient":"horizontal","color":"#F0A020"},"encoding":{"x":{"field":"f","type":"quantitative","axis":null,"scale":{"domain":[6,16],"range":[213,258.5]}},"x2":{"field":"e"},"y":{"field":"d","type":"quantitative","axis":null,"scale":{"domain":[3503.6,3589.7],"range":[310,855]}}}},
{"data":{"name":"cali"},"mark":{"type":"line","color":"#F05040","strokeWidth":1.1},"encoding":{"x":{"field":"v","type":"quantitative","axis":null,"scale":{"domain":[6,16],"range":[213,258.5]}},"y":{"field":"d","type":"quantitative","axis":null,"scale":{"domain":[3503.6,3589.7],"range":[310,855]}},"order":{"field":"d"}}},
{"data":{"name":"gamma"},"mark":{"type":"line","color":"#A8BE88","strokeWidth":1.2},"encoding":{"x":{"field":"v","type":"quantitative","axis":null,"scale":{"domain":[0,150],"range":[258.5,335]}},"y":{"field":"d","type":"quantitative","axis":null,"scale":{"domain":[3503.6,3589.7],"range":[310,855]}},"order":{"field":"d"}}},
{"data":{"name":"density_good"},"mark":{"type":"line","color":"#B97FEF","strokeWidth":1.1},"encoding":{"x":{"field":"v","type":"quantitative","axis":null,"scale":{"domain":[1.95,2.95],"range":[425.7,501]}},"y":{"field":"d","type":"quantitative","axis":null,"scale":{"domain":[3503.6,3589.7],"range":[310,855]}},"order":{"field":"d"}}},
{"data":{"name":"density"},"mark":{"type":"line","color":"#F85050","strokeWidth":1.1},"encoding":{"x":{"field":"v","type":"quantitative","axis":null,"scale":{"domain":[1.95,2.95],"range":[425.7,501]}},"y":{"field":"d","type":"quantitative","axis":null,"scale":{"domain":[3503.6,3589.7],"range":[310,855]}},"order":{"field":"d"}}},
{"data":{"name":"dtc"},"mark":{"type":"line","color":"#666666","strokeWidth":1.1},"encoding":{"x":{"field":"v","type":"quantitative","axis":null,"scale":{"domain":[240,40],"range":[652.7,729.3]}},"y":{"field":"d","type":"quantitative","axis":null,"scale":{"domain":[3503.6,3589.7],"range":[310,855]}},"order":{"field":"d"}}},
{"data":{"name":"ild"},"mark":{"type":"line","color":"#666666","strokeWidth":1.1},"encoding":{"x":{"field":"v","type":"quantitative","axis":null,"scale":{"type":"log","domain":[0.2,2000],"range":[729.3,805]}},"y":{"field":"d","type":"quantitative","axis":null,"scale":{"domain":[3503.6,3589.7],"range":[310,855]}},"order":{"field":"d"}}},
{"data":{"name":"sn"},"mark":{"type":"line","color":"#2FB02F","strokeWidth":1.2},"encoding":{"x":{"field":"v","type":"quantitative","axis":null,"scale":{"type":"log","domain":[0.2,2000],"range":[729.3,805]}},"y":{"field":"d","type":"quantitative","axis":null,"scale":{"domain":[3503.6,3589.7],"range":[310,855]}},"order":{"field":"d"}}},
{"data":{"name":"perm"},"mark":{"type":"line","color":"#F06060","strokeWidth":1.1},"encoding":{"x":{"field":"v","type":"quantitative","axis":null,"scale":{"type":"log","domain":[0.01,10000],"range":[956.7,1032]}},"y":{"field":"d","type":"quantitative","axis":null,"scale":{"domain":[3503.6,3589.7],"range":[310,855]}},"order":{"field":"d"}}},
{"data":{"name":"vsh"},"mark":{"type":"line","color":"#666666","strokeWidth":1.1},"encoding":{"x":{"field":"v","type":"quantitative","axis":null,"scale":{"domain":[0,1],"range":[1032,1107.5]}},"y":{"field":"d","type":"quantitative","axis":null,"scale":{"domain":[3503.6,3589.7],"range":[310,855]}},"order":{"field":"d"}}},
{"data":{"name":"vclay"},"mark":{"type":"point","filled":true,"color":"#F03030","size":7,"opacity":1},"encoding":{"x":{"field":"v","type":"quantitative","axis":null,"scale":{"domain":[0,100],"range":[1032,1107.5]}},"y":{"field":"d","type":"quantitative","axis":null,"scale":{"domain":[3503.6,3589.7],"range":[310,855]}}}},
{"data":{"name":"zone_lines"},"mark":{"type":"rule","color":"#A0A0FA","strokeWidth":2},"encoding":{"x":{"field":"t","type":"quantitative","axis":null,"scale":{"domain":[-1,0,1,2,3,4,5,6,7,8,9,10,11,12,13,14,15,16,17,18,19,20,21],"range":[29,213,258.5,335,365.7,395.5,425.7,501,516.7,532,562.7,652.7,729.3,805,880.5,956.7,1032,1107.5,1184,1199,1214,1290,1471]}},"y":{"field":"d1","type":"quantitative","axis":null,"scale":{"domain":[3503.6,3589.7],"range":[310,855]}},"y2":{"field":"d2"}}},
{"data":{"name":"tops"},"mark":{"type":"rule","color":"#3A3AE8","strokeWidth":1},"encoding":{"x":{"field":"a","type":"quantitative","axis":null,"scale":{"domain":[-1,0,1,2,3,4,5,6,7,8,9,10,11,12,13,14,15,16,17,18,19,20,21],"range":[29,213,258.5,335,365.7,395.5,425.7,501,516.7,532,562.7,652.7,729.3,805,880.5,956.7,1032,1107.5,1184,1199,1214,1290,1471]}},"x2":{"field":"b"},"y":{"field":"d","type":"quantitative","axis":null,"scale":{"domain":[3503.6,3589.7],"range":[310,855]}}}},
{"data":{"name":"depth_labels"},"mark":{"type":"rule","color":"#555555","strokeWidth":1,"strokeDash":[3,24,3]},"encoding":{"x":{"field":"l","type":"quantitative","axis":null,"scale":{"domain":[-1,0,1,2,3,4,5,6,7,8,9,10,11,12,13,14,15,16,17,18,19,20,21],"range":[29,213,258.5,335,365.7,395.5,425.7,501,516.7,532,562.7,652.7,729.3,805,880.5,956.7,1032,1107.5,1184,1199,1214,1290,1471]}},"x2":{"field":"r"},"y":{"field":"d","type":"quantitative","axis":null,"scale":{"domain":[3503.6,3589.7],"range":[310,855]}}}},
{"data":{"name":"depth_labels"},"mark":{"type":"text","font":"Liberation Sans","fontSize":8.5,"color":"#4A4A4A"},"encoding":{"text":{"field":"label"},"x":{"field":"t","type":"quantitative","axis":null,"scale":{"domain":[-1,0,1,2,3,4,5,6,7,8,9,10,11,12,13,14,15,16,17,18,19,20,21],"range":[29,213,258.5,335,365.7,395.5,425.7,501,516.7,532,562.7,652.7,729.3,805,880.5,956.7,1032,1107.5,1184,1199,1214,1290,1471]}},"y":{"field":"d","type":"quantitative","axis":null,"scale":{"domain":[3503.6,3589.7],"range":[310,855]}}}},
{"data":{"name":"zone_a"},"mark":{"type":"text","font":"Liberation Sans","fontSize":10,"color":"#4A4AE0"},"encoding":{"text":{"field":"label"},"x":{"field":"t","type":"quantitative","axis":null,"scale":{"domain":[-1,0,1,2,3,4,5,6,7,8,9,10,11,12,13,14,15,16,17,18,19,20,21],"range":[29,213,258.5,335,365.7,395.5,425.7,501,516.7,532,562.7,652.7,729.3,805,880.5,956.7,1032,1107.5,1184,1199,1214,1290,1471]}},"y":{"field":"d","type":"quantitative","axis":null,"scale":{"domain":[3503.6,3589.7],"range":[310,855]}}}},
{"data":{"name":"zone_b"},"mark":{"type":"text","font":"Liberation Sans","fontSize":10,"angle":90,"color":"#6A6AF0"},"encoding":{"text":{"field":"label"},"x":{"field":"t","type":"quantitative","axis":null,"scale":{"domain":[-1,0,1,2,3,4,5,6,7,8,9,10,11,12,13,14,15,16,17,18,19,20,21],"range":[29,213,258.5,335,365.7,395.5,425.7,501,516.7,532,562.7,652.7,729.3,805,880.5,956.7,1032,1107.5,1184,1199,1214,1290,1471]}},"y":{"field":"d","type":"quantitative","axis":null,"scale":{"domain":[3503.6,3589.7],"range":[310,855]}}}},
{"data":{"name":"header_h"},"mark":{"type":"rule","color":"#707070","strokeWidth":1.4},"encoding":{"x":{"field":"a","type":"quantitative","axis":null,"scale":{"domain":[-1,0,1,2,3,4,5,6,7,8,9,10,11,12,13,14,15,16,17,18,19,20,21],"range":[29,213,258.5,335,365.7,395.5,425.7,501,516.7,532,562.7,652.7,729.3,805,880.5,956.7,1032,1107.5,1184,1199,1214,1290,1471]}},"x2":{"field":"b"},"y":{"field":"r","type":"quantitative","axis":null,"scale":{"domain":[0,7],"range":[292,119.8]}}}},
{"data":{"name":"header_v"},"mark":{"type":"rule","color":"#707070","strokeWidth":1.4},"encoding":{"x":{"field":"t","type":"quantitative","axis":null,"scale":{"domain":[-1,0,1,2,3,4,5,6,7,8,9,10,11,12,13,14,15,16,17,18,19,20,21],"range":[29,213,258.5,335,365.7,395.5,425.7,501,516.7,532,562.7,652.7,729.3,805,880.5,956.7,1032,1107.5,1184,1199,1214,1290,1471]}},"y":{"field":"r1","type":"quantitative","axis":null,"scale":{"domain":[0,7],"range":[292,119.8]}},"y2":{"field":"r2"}}},
{"data":{"name":"curve_lines"},"mark":{"type":"rule","strokeWidth":1.2},"encoding":{"x":{"field":"a","type":"quantitative","axis":null,"scale":{"domain":[-1,0,1,2,3,4,5,6,7,8,9,10,11,12,13,14,15,16,17,18,19,20,21],"range":[29,213,258.5,335,365.7,395.5,425.7,501,516.7,532,562.7,652.7,729.3,805,880.5,956.7,1032,1107.5,1184,1199,1214,1290,1471]}},"x2":{"field":"b"},"y":{"field":"r","type":"quantitative","axis":null,"scale":{"domain":[0,7],"range":[292,119.8]}},"color":{"field":"curve","type":"nominal","legend":null,"scale":{"domain":["LABEL","CALI","GAMMA","DENSITY_GOOD","DENSITY","NEUTRON","SN","PHIE","PHIE_DEN","PHIE_DEN_SYNTH","SWT","PERM","VCLAY_CALC","PEF","DOT"],"range":["#555555","#FF4040","#8FAE62","#B97FEF","#FF3030","#3535E8","#40E040","#4040F0","#FF5050","#F8B050","#3030E8","#FF5050","#FF5050","#A05040","#222222"]}}}},
{"data":{"name":"names"},"mark":{"type":"text","font":"Liberation Sans","fontSize":8},"encoding":{"text":{"field":"label"},"x":{"field":"t","type":"quantitative","axis":null,"scale":{"domain":[-1,0,1,2,3,4,5,6,7,8,9,10,11,12,13,14,15,16,17,18,19,20,21],"range":[29,213,258.5,335,365.7,395.5,425.7,501,516.7,532,562.7,652.7,729.3,805,880.5,956.7,1032,1107.5,1184,1199,1214,1290,1471]}},"y":{"field":"r","type":"quantitative","axis":null,"scale":{"domain":[0,7],"range":[292,119.8]}},"color":{"field":"curve","type":"nominal","legend":null,"scale":{"domain":["LABEL","CALI","GAMMA","DENSITY_GOOD","DENSITY","NEUTRON","SN","PHIE","PHIE_DEN","PHIE_DEN_SYNTH","SWT","PERM","VCLAY_CALC","PEF","DOT"],"range":["#555555","#FF4040","#8FAE62","#B97FEF","#FF3030","#3535E8","#40E040","#4040F0","#FF5050","#F8B050","#3030E8","#FF5050","#FF5050","#A05040","#222222"]}}}},
{"data":{"name":"units"},"mark":{"type":"text","font":"Liberation Sans","fontSize":6},"encoding":{"text":{"field":"label"},"x":{"field":"t","type":"quantitative","axis":null,"scale":{"domain":[-1,0,1,2,3,4,5,6,7,8,9,10,11,12,13,14,15,16,17,18,19,20,21],"range":[29,213,258.5,335,365.7,395.5,425.7,501,516.7,532,562.7,652.7,729.3,805,880.5,956.7,1032,1107.5,1184,1199,1214,1290,1471]}},"y":{"field":"r","type":"quantitative","axis":null,"scale":{"domain":[0,7],"range":[292,119.8]}},"color":{"field":"curve","type":"nominal","legend":null,"scale":{"domain":["LABEL","CALI","GAMMA","DENSITY_GOOD","DENSITY","NEUTRON","SN","PHIE","PHIE_DEN","PHIE_DEN_SYNTH","SWT","PERM","VCLAY_CALC","PEF","DOT"],"range":["#555555","#FF4040","#8FAE62","#B97FEF","#FF3030","#3535E8","#40E040","#4040F0","#FF5050","#F8B050","#3030E8","#FF5050","#FF5050","#A05040","#222222"]}}}},
{"data":{"name":"rotated"},"mark":{"type":"text","font":"Liberation Sans","fontSize":6,"angle":270,"color":"#555555"},"encoding":{"text":{"field":"label"},"x":{"field":"t","type":"quantitative","axis":null,"scale":{"domain":[-1,0,1,2,3,4,5,6,7,8,9,10,11,12,13,14,15,16,17,18,19,20,21],"range":[29,213,258.5,335,365.7,395.5,425.7,501,516.7,532,562.7,652.7,729.3,805,880.5,956.7,1032,1107.5,1184,1199,1214,1290,1471]}},"y":{"field":"r","type":"quantitative","axis":null,"scale":{"domain":[0,7],"range":[292,119.8]}}}},
{"data":{"name":"header_dots"},"mark":{"type":"point","filled":true,"size":4,"opacity":1},"encoding":{"x":{"field":"t","type":"quantitative","axis":null,"scale":{"domain":[-1,0,1,2,3,4,5,6,7,8,9,10,11,12,13,14,15,16,17,18,19,20,21],"range":[29,213,258.5,335,365.7,395.5,425.7,501,516.7,532,562.7,652.7,729.3,805,880.5,956.7,1032,1107.5,1184,1199,1214,1290,1471]}},"y":{"field":"r","type":"quantitative","axis":null,"scale":{"domain":[0,7],"range":[292,119.8]}},"color":{"field":"curve","type":"nominal","legend":null,"scale":{"domain":["DOT","VCLAY_CALC"],"range":["#222222","#FF3030"]}}}},
{"data":{"name":"slide_title"},"mark":{"type":"text","font":"Lato","fontSize":76,"color":"#111111"},"encoding":{"text":{"field":"label"},"x":{"field":"t","type":"quantitative","axis":null,"scale":{"domain":[-1,0,1,2,3,4,5,6,7,8,9,10,11,12,13,14,15,16,17,18,19,20,21],"range":[29,213,258.5,335,365.7,395.5,425.7,501,516.7,532,562.7,652.7,729.3,805,880.5,956.7,1032,1107.5,1184,1199,1214,1290,1471]}},"y":{"field":"r","type":"quantitative","axis":null,"scale":{"domain":[0,7],"range":[292,119.8]}}}},
{"data":{"name":"slide_subtitle"},"mark":{"type":"text","font":"Lato","fontSize":42,"color":"#111111"},"encoding":{"text":{"field":"label"},"x":{"field":"t","type":"quantitative","axis":null,"scale":{"domain":[-1,0,1,2,3,4,5,6,7,8,9,10,11,12,13,14,15,16,17,18,19,20,21],"range":[29,213,258.5,335,365.7,395.5,425.7,501,516.7,532,562.7,652.7,729.3,805,880.5,956.7,1032,1107.5,1184,1199,1214,1290,1471]}},"y":{"field":"r","type":"quantitative","axis":null,"scale":{"domain":[0,7],"range":[292,119.8]}}}}
]}
